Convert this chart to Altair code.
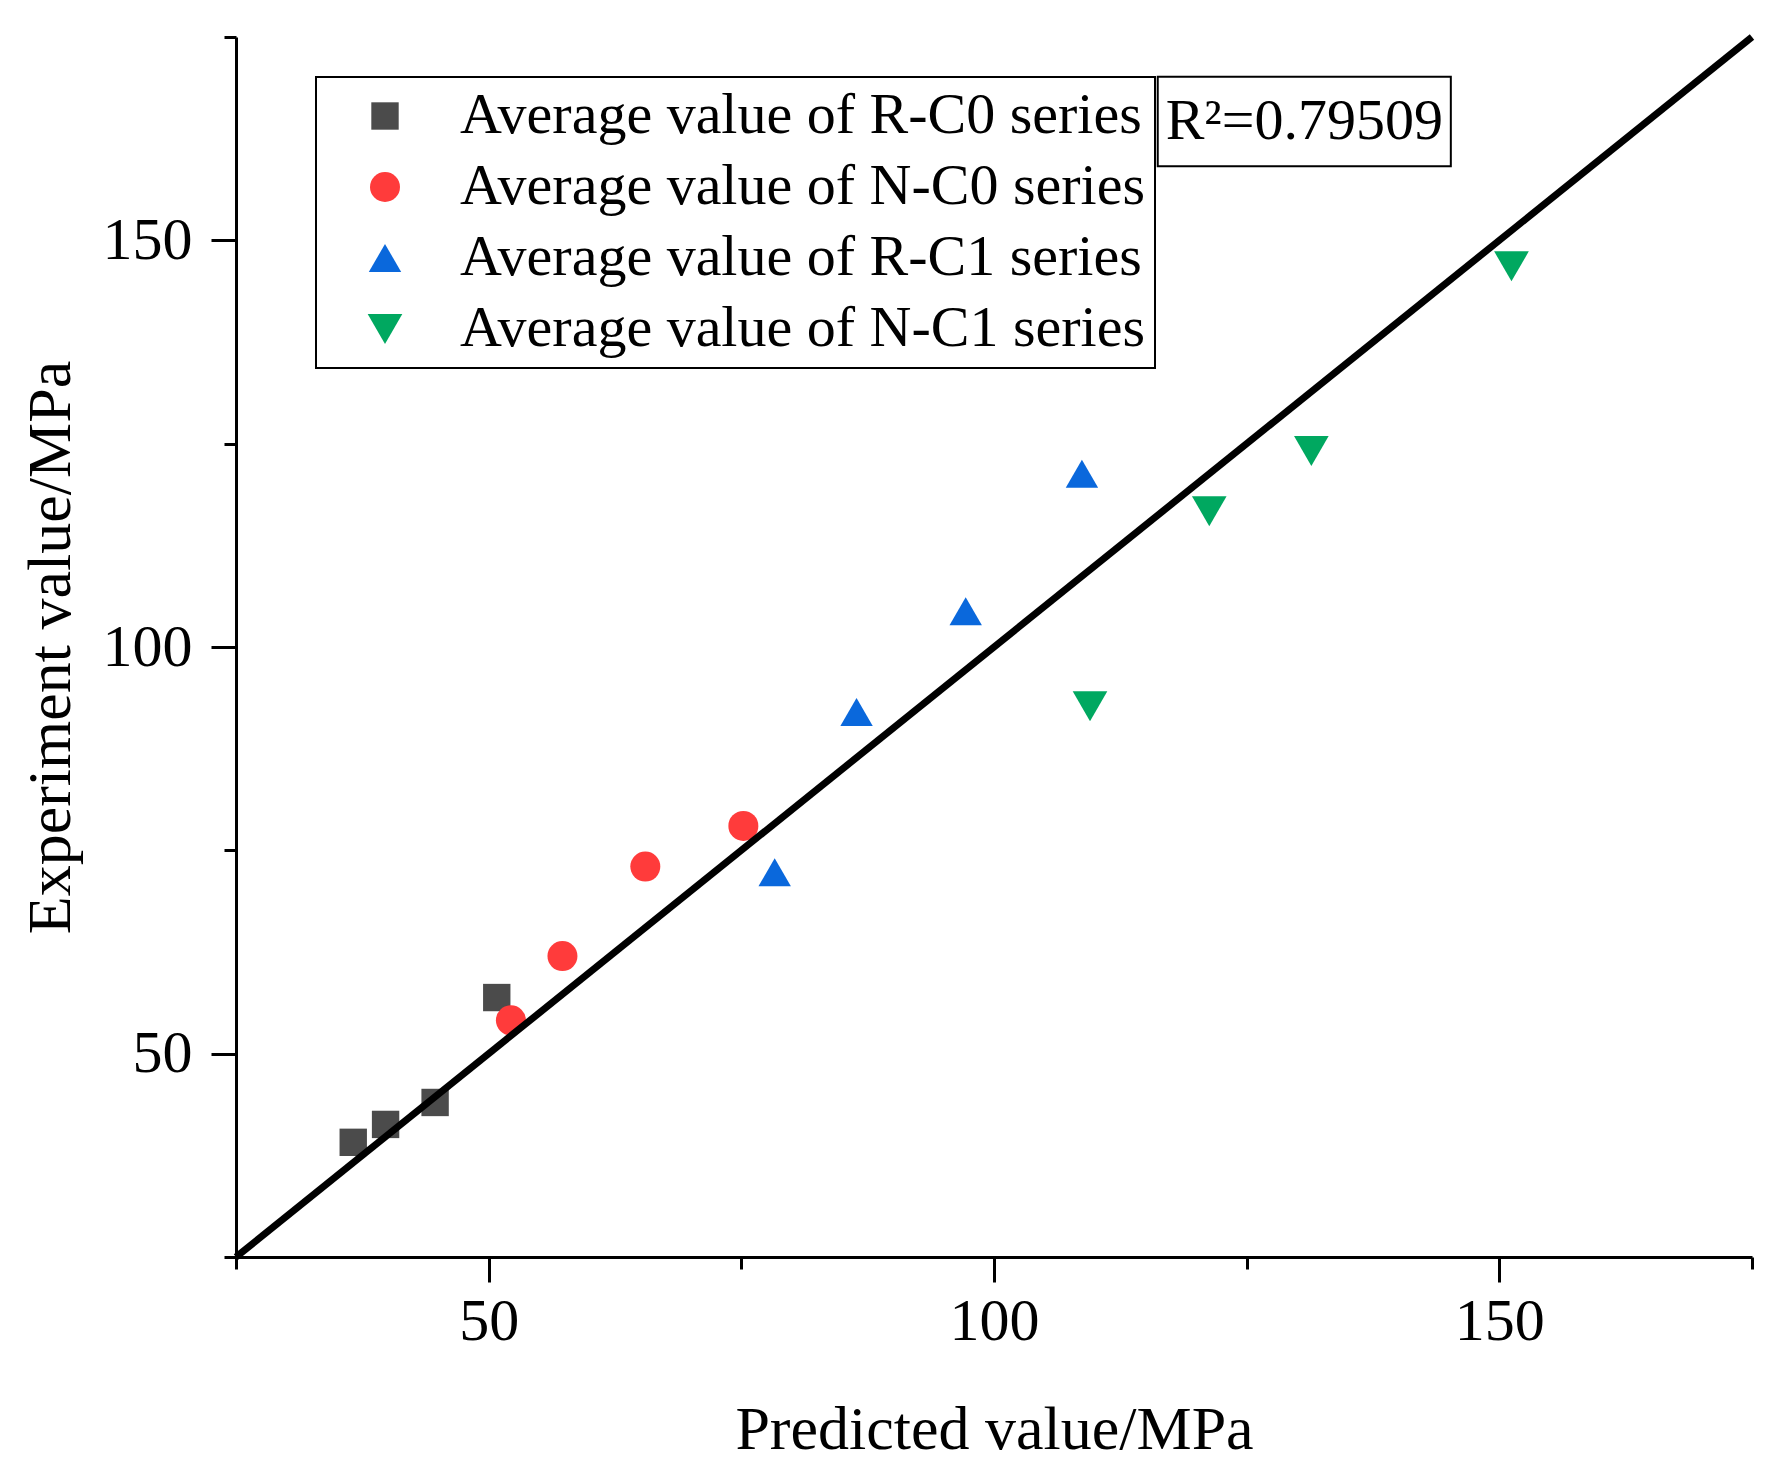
import altair as alt
import pandas as pd

# series labels and styling (Origin-like palette)
series_names = ["Average value of R-C0 series", "Average value of N-C0 series",
                "Average value of R-C1 series", "Average value of N-C1 series"]
series_colors = ["#4B4B4B", "#FF3B3B", "#0A68DC", "#00A860"]
series_shapes = ["square", "circle", "triangle-up", "triangle-down"]
series_sizes = [750, 1200, 2100, 2100]

# predicted / experiment values (MPa)
rc0_pred = [36.6, 39.8, 44.7, 50.8]
rc0_exp = [39.1, 41.3, 44.0, 56.9]
nc0_pred = [52.2, 57.3, 65.5, 75.2]
nc0_exp = [54.1, 62.0, 73.0, 78.0]
rc1_pred = [78.3, 86.4, 97.2, 108.7]
rc1_exp = [72.3, 92.0, 104.4, 121.3]
nc1_pred = [109.5, 121.3, 131.4, 151.2]
nc1_exp = [92.7, 116.7, 124.1, 146.8]

# y = x reference line ends
fit_vals = [25, 175]

# R^2 annotation box (data units)
r2_label = "R²=0.79509"
r2_box_x = [116.2, 145.2]
r2_box_y = [159.1, 170.1]

axis_ticks = [25, 50, 75, 100, 125, 150, 175]

rows = []
for name, px, ey in zip(series_names,
                        [rc0_pred, nc0_pred, rc1_pred, nc1_pred],
                        [rc0_exp, nc0_exp, rc1_exp, nc1_exp]):
    for p, e in zip(px, ey):
        rows.append({'series': name, 'pred': p, 'exp': e})
df = pd.DataFrame(rows)
fit = pd.DataFrame({'pred': fit_vals, 'exp': fit_vals})
box = pd.DataFrame({'pred': [r2_box_x[0]], 'pred2': [r2_box_x[1]],
                    'exp': [r2_box_y[0]], 'exp2': [r2_box_y[1]],
                    'label': [r2_label]})
box['cx'] = (box['pred'] + box['pred2']) / 2
box['cy'] = (box['exp'] + box['exp2']) / 2

scale = alt.Scale(domain=[25, 175], nice=False, zero=False)
tick_size = {"condition": {"test": "datum.value % 50 === 0", "value": 25}, "value": 12}
label_expr = "datum.value % 50 === 0 ? datum.label : ''"

x_axis = alt.Axis(title='Predicted value/MPa', values=axis_ticks, labelExpr=label_expr,
                  tickSize=tick_size, labelPadding=10, titlePadding=48, labelOverlap=False)
y_axis = alt.Axis(title='Experiment value/MPa', values=axis_ticks, labelExpr=label_expr,
                  tickSize=tick_size, labelPadding=19, titlePadding=20, labelOverlap=False,
                  labelFlush=True)

legend = alt.Legend(title=None, orient='none', legendX=80, legendY=40)

points = alt.Chart(df).mark_point(filled=True, opacity=1, strokeWidth=0).encode(
    x=alt.X('pred:Q', scale=scale, axis=x_axis),
    y=alt.Y('exp:Q', scale=scale, axis=y_axis),
    color=alt.Color('series:N', scale=alt.Scale(domain=series_names, range=series_colors), legend=legend),
    shape=alt.Shape('series:N', scale=alt.Scale(domain=series_names, range=series_shapes), legend=legend),
    size=alt.Size('series:N', scale=alt.Scale(domain=series_names, range=series_sizes), legend=legend),
)

line = alt.Chart(fit).mark_line(color='black', strokeWidth=7).encode(
    x='pred:Q', y='exp:Q'
)

rect = alt.Chart(box).mark_rect(fill='white', stroke='black', strokeWidth=2).encode(
    x='pred:Q', x2='pred2', y='exp:Q', y2='exp2'
)

text = alt.Chart(box).mark_text(font='Liberation Serif', fontSize=58, color='black').encode(
    x=alt.X('cx:Q', title='Predicted value/MPa'),
    y=alt.Y('cy:Q', title='Experiment value/MPa'),
    text='label:N'
)

chart = alt.layer(points, line, rect, text).properties(
    width=1516, height=1220,
    padding={"left": 11, "top": 15, "right": 5, "bottom": 5}
).configure_view(stroke=None).configure_axis(
    grid=False, domainColor='black', domainWidth=3, tickColor='black', tickWidth=3,
    labelFont='Liberation Serif', labelFontSize=60, labelColor='black',
    titleFont='Liberation Serif', titleFontSize=62, titleFontWeight='normal', titleColor='black'
).configure_legend(
    labelFont='Liberation Serif', labelFontSize=58, labelColor='black', labelLimit=0,
    strokeColor='black', strokeWidth=2, fillColor='white', padding=10,
    symbolOffset=30, labelOffset=46, rowPadding=13, symbolOpacity=1, symbolStrokeWidth=0
)

chart.save("out.html", embed_options={"renderer": "svg", "actions": False})
